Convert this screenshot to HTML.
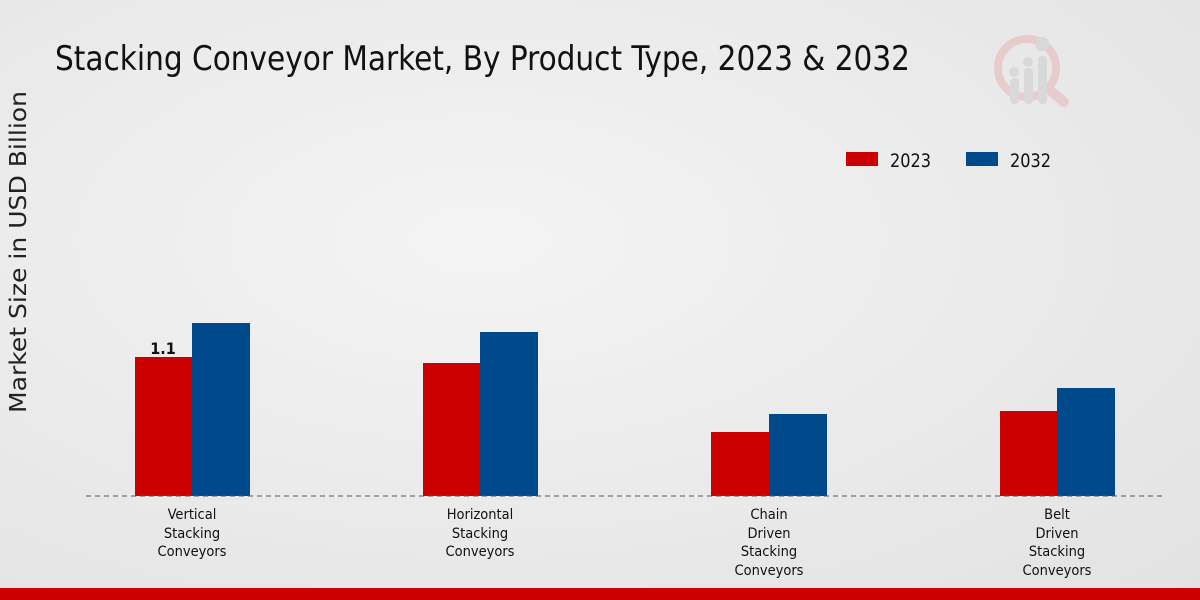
<!DOCTYPE html>
<html><head><meta charset="utf-8"><style>
html,body{margin:0;padding:0;width:1200px;height:600px;overflow:hidden}
body{background:radial-gradient(ellipse at 40% 40%,#f4f4f4 0%,#e9e9e9 60%,#e2e2e2 100%)}
</style></head><body>
<svg width="1200" height="600" xmlns="http://www.w3.org/2000/svg" style="position:absolute;left:0;top:0;font-family:'DejaVu Sans Condensed','Liberation Sans',sans-serif">
<text x="55" y="70" font-size="34" fill="#111" textLength="855" lengthAdjust="spacingAndGlyphs">Stacking Conveyor Market, By Product Type, 2023 &amp; 2032</text>
<text transform="translate(26,413) rotate(-90)" font-size="23" fill="#222" textLength="322" lengthAdjust="spacingAndGlyphs">Market Size in USD Billion</text>
<g opacity="0.55">
<circle cx="1027" cy="68" r="29" fill="none" stroke="#e8b4b4" stroke-width="8"/>
<line x1="1050" y1="90" x2="1064" y2="102" stroke="#e8b4b4" stroke-width="10" stroke-linecap="round"/>
<rect x="1010" y="78" width="9" height="26" rx="4" fill="#ccc"/>
<rect x="1024" y="68" width="9" height="36" rx="4" fill="#ccc"/>
<rect x="1038" y="56" width="9" height="48" rx="4" fill="#ccc"/>
<circle cx="1014" cy="72" r="5" fill="#ccc"/><circle cx="1028" cy="62" r="5" fill="#ccc"/><circle cx="1042" cy="44" r="7" fill="#ccc"/>
</g>
<rect x="846" y="152" width="32" height="14" fill="#cc0000"/>
<text x="890" y="167" font-size="19" fill="#111" textLength="41" lengthAdjust="spacingAndGlyphs">2023</text>
<rect x="966" y="152" width="32" height="14" fill="#004a8c"/>
<text x="1010" y="167" font-size="19" fill="#111" textLength="41" lengthAdjust="spacingAndGlyphs">2032</text>
<g>
<rect x="135" y="357" width="57" height="139" fill="#cc0000"/>
<rect x="192" y="323" width="58" height="173" fill="#004a8c"/>
<rect x="423" y="363" width="57" height="133" fill="#cc0000"/>
<rect x="480" y="332" width="58" height="164" fill="#004a8c"/>
<rect x="711" y="432" width="58" height="64" fill="#cc0000"/>
<rect x="769" y="414" width="58" height="82" fill="#004a8c"/>
<rect x="1000" y="411" width="57" height="85" fill="#cc0000"/>
<rect x="1057" y="388" width="58" height="108" fill="#004a8c"/>
</g>
<line x1="86" y1="496" x2="1164" y2="496" stroke="#555" stroke-width="1" stroke-dasharray="5,4"/>
<text x="163" y="354" font-size="16" font-weight="bold" fill="#111" text-anchor="middle">1.1</text>
<g font-size="14.5" fill="#111" text-anchor="middle">
<text x="192" y="519">Vertical</text><text x="192" y="538">Stacking</text><text x="192" y="556">Conveyors</text>
<text x="480" y="519">Horizontal</text><text x="480" y="538">Stacking</text><text x="480" y="556">Conveyors</text>
<text x="769" y="519">Chain</text><text x="769" y="538">Driven</text><text x="769" y="556">Stacking</text><text x="769" y="575">Conveyors</text>
<text x="1057" y="519">Belt</text><text x="1057" y="538">Driven</text><text x="1057" y="556">Stacking</text><text x="1057" y="575">Conveyors</text>
</g>
<rect x="0" y="588" width="1200" height="12" fill="#cc0000"/>
</svg>
</body></html>
